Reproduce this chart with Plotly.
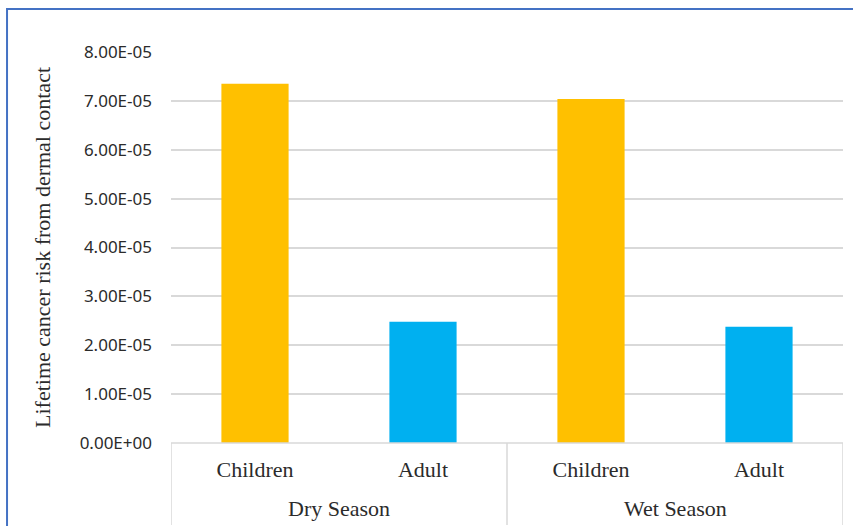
import plotly.graph_objects as go

# Lifetime cancer risk from dermal contact, by season and age group
seasons = ["Dry Season", "Wet Season"]
groups = ["Children", "Adult"]
dry_risk = [7.35e-05, 2.48e-05]
wet_risk = [7.04e-05, 2.38e-05]
bar_colors = ["#FFC000", "#00B0F0"]

y_ticks = [i * 1e-05 for i in range(9)]
y_tick_text = [f"{v:.2E}" for v in y_ticks]

values = dry_risk + wet_risk
labels = groups + groups
positions = list(range(len(values)))
colors = bar_colors + bar_colors

fig = go.Figure()
fig.add_trace(go.Bar(
    x=positions,
    y=values,
    marker=dict(color=colors, line=dict(width=0)),
    width=0.4,
    hoverinfo="y",
))

line_col = "#D9D9D9"
text_col = "#2b2b2b"
# axis frame below the bars: baseline plus dividers between season groups
fig.add_shape(type="line", xref="x", yref="paper", x0=-0.5, x1=3.5, y0=0, y1=0,
              line=dict(color=line_col, width=1.5))
for xv in [-0.5, 1.5, 3.5]:
    fig.add_shape(type="line", xref="x", yref="paper", x0=xv, x1=xv, y0=0, y1=-0.21,
                  line=dict(color=line_col, width=1.5))

for i, s in enumerate(seasons):
    fig.add_annotation(x=2 * i + 0.5, xref="x", y=-0.168, yref="paper",
                       text=s, showarrow=False, yanchor="middle",
                       font=dict(family="Liberation Serif", size=22, color=text_col))

# outer chart border
fig.add_shape(type="rect", xref="paper", yref="paper",
              x0=-0.244, x1=1.05, y0=1.11, y1=-0.4,
              line=dict(color="#4472C4", width=2), layer="below")

fig.update_layout(
    width=853, height=526,
    margin=dict(l=171, r=10, t=52, b=83),
    paper_bgcolor="white", plot_bgcolor="white",
    showlegend=False,
    bargap=0.6,
    xaxis=dict(
        tickmode="array", tickvals=positions, ticktext=labels,
        range=[-0.5, 3.5], showgrid=False, zeroline=False, showline=False,
        ticks="", ticklabelstandoff=11,
        tickfont=dict(family="Liberation Serif", size=22, color=text_col),
        fixedrange=True,
    ),
    yaxis=dict(
        range=[0, 8e-05], tickmode="array", tickvals=y_ticks, ticktext=y_tick_text,
        showgrid=True, gridcolor=line_col, gridwidth=1.5,
        zeroline=False, showline=False, ticks="", ticklabelstandoff=18,
        tickfont=dict(family="Noto Sans", size=17, color=text_col),
        title=dict(text="Lifetime cancer risk from dermal contact", standoff=22,
                   font=dict(family="Liberation Serif", size=22, color=text_col)),
        fixedrange=True,
    ),
)

fig.write_html("out.html")
